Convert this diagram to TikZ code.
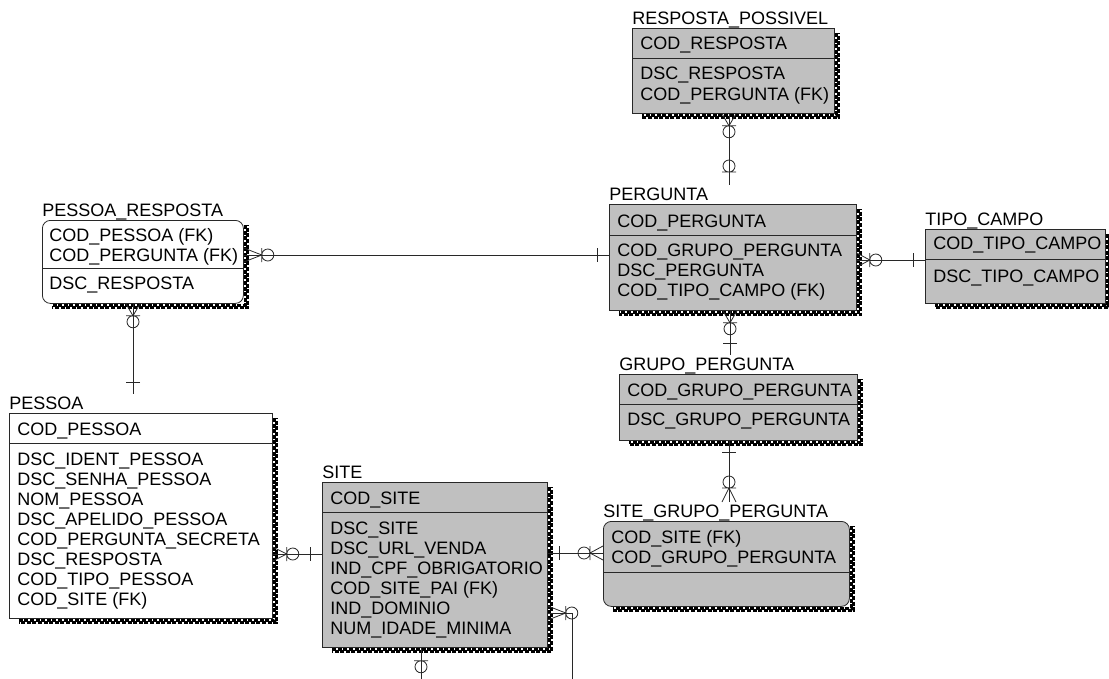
\documentclass[tikz,border=0pt]{standalone}
\usepackage{fontspec}
\setmainfont{Liberation Sans}
\usetikzlibrary{decorations.markings}
\definecolor{boxgray}{RGB}{192,192,192}
\definecolor{linegray}{RGB}{40,40,40}
\tikzset{
  entity/.style={draw=linegray, anchor=north west, inner sep=0pt},
  enttitle/.style={anchor=base west, inner xsep=0pt, inner ysep=2pt},
  field/.style={anchor=base west, inner sep=0pt},
  sepline/.style={draw=linegray},
  shadowin/.style={line width=2.7pt, dash pattern=on 4pt off 1.6pt},
  shadowout/.style={line width=2.7pt, dash pattern=on 4pt off 1.6pt, dash phase=2.8pt},
  rel/.style={draw=linegray, postaction={decorate}},
  frommany/.style={decoration={markings, mark=at position 0pt with {\draw (0,-7) -- (#1,0) -- (0,7) (#1,-7) -- (#1,7) (#1+6,0) circle (6pt);}}},
  toone/.style={decoration={markings, mark=at position 1 with {\draw (-12,-7) -- (-12,7);}}},
  tozone/.style={decoration={markings, mark=at position 1 with {\draw (-13,-7) -- (-13,7) (-19,0) circle (6pt);}}}
}

\begin{document}
\begin{tikzpicture}[x=1pt, y=-1pt, line width=0.8pt, font=\fontsize{18}{20}\selectfont]
	\useasboundingbox (0,0) rectangle (1109,678);
	\clip (0,0) rectangle (1109,678);
	% entities
	\node[entity, fill=white, minimum width=263, minimum height=205] (pessoa) at (9,413) {};
	\node[entity, fill=white, rounded corners=8pt, minimum width=201, minimum height=83] (presp) at (42,220) {};
	\node[entity, fill=boxgray, minimum width=202, minimum height=85] (rp) at (632,28) {};
	\node[entity, fill=boxgray, minimum width=247, minimum height=106] (pergunta) at (609,204) {};
	\node[entity, fill=boxgray, minimum width=180, minimum height=74] (tipo) at (925,229) {};
	\node[entity, fill=boxgray, minimum width=238, minimum height=66] (grupo) at (619,374) {};
	\node[entity, fill=boxgray, rounded corners=8pt, minimum width=246, minimum height=85] (sgp) at (603,521) {};
	\node[entity, fill=boxgray, minimum width=225, minimum height=165] (site) at (322,482) {};
	%
	\draw[shadowin] ([xshift=1.35pt,yshift=-5pt]pessoa.north east) |- ([xshift=10pt,yshift=-1.35pt]pessoa.south west);
	\draw[shadowout] ([xshift=4pt,yshift=-5pt]pessoa.north east) |- ([xshift=10pt,yshift=-4pt]pessoa.south west);
	\draw[shadowin] ([xshift=1.35pt,yshift=-5pt]presp.north east) |- ([xshift=10pt,yshift=-1.35pt]presp.south west);
	\draw[shadowout] ([xshift=4pt,yshift=-5pt]presp.north east) |- ([xshift=10pt,yshift=-4pt]presp.south west);
	\draw[shadowin] ([xshift=1.35pt,yshift=-5pt]rp.north east) |- ([xshift=10pt,yshift=-1.35pt]rp.south west);
	\draw[shadowout] ([xshift=4pt,yshift=-5pt]rp.north east) |- ([xshift=10pt,yshift=-4pt]rp.south west);
	\draw[shadowin] ([xshift=1.35pt,yshift=-5pt]pergunta.north east) |- ([xshift=10pt,yshift=-1.35pt]pergunta.south west);
	\draw[shadowout] ([xshift=4pt,yshift=-5pt]pergunta.north east) |- ([xshift=10pt,yshift=-4pt]pergunta.south west);
	\draw[shadowin] ([xshift=1.35pt,yshift=-5pt]tipo.north east) |- ([xshift=10pt,yshift=-1.35pt]tipo.south west);
	\draw[shadowout] ([xshift=4pt,yshift=-5pt]tipo.north east) |- ([xshift=10pt,yshift=-4pt]tipo.south west);
	\draw[shadowin] ([xshift=1.35pt,yshift=-5pt]grupo.north east) |- ([xshift=10pt,yshift=-1.35pt]grupo.south west);
	\draw[shadowout] ([xshift=4pt,yshift=-5pt]grupo.north east) |- ([xshift=10pt,yshift=-4pt]grupo.south west);
	\draw[shadowin] ([xshift=1.35pt,yshift=-5pt]sgp.north east) |- ([xshift=10pt,yshift=-1.35pt]sgp.south west);
	\draw[shadowout] ([xshift=4pt,yshift=-5pt]sgp.north east) |- ([xshift=10pt,yshift=-4pt]sgp.south west);
	\draw[shadowin] ([xshift=1.35pt,yshift=-5pt]site.north east) |- ([xshift=10pt,yshift=-1.35pt]site.south west);
	\draw[shadowout] ([xshift=4pt,yshift=-5pt]site.north east) |- ([xshift=10pt,yshift=-4pt]site.south west);
	%
	\node[enttitle] (pessoaT) at ([yshift=4pt]pessoa.north west) {PESSOA};
	\node[enttitle] (prespT) at ([yshift=4pt]presp.north west) {PESSOA\_RESPOSTA};
	\node[enttitle] (rpT) at ([yshift=4pt]rp.north west) {RESPOSTA\_POSSIVEL};
	\node[enttitle] (perguntaT) at ([yshift=4pt]pergunta.north west) {PERGUNTA};
	\node[enttitle] (tipoT) at ([yshift=4pt]tipo.north west) {TIPO\_CAMPO};
	\node[enttitle] (grupoT) at ([yshift=4pt]grupo.north west) {GRUPO\_PERGUNTA};
	\node[enttitle] (sgpT) at ([yshift=4pt]sgp.north west) {SITE\_GRUPO\_PERGUNTA};
	\node[enttitle] (siteT) at ([yshift=4pt]site.north west) {SITE};
	%
	\draw[sepline] (pessoa.west |- 0,443) -- (pessoa.east |- 0,443);
	\draw[sepline] (presp.west |- 0,268) -- (presp.east |- 0,268);
	\draw[sepline] (rp.west |- 0,58) -- (rp.east |- 0,58);
	\draw[sepline] (pergunta.west |- 0,235) -- (pergunta.east |- 0,235);
	\draw[sepline] (tipo.west |- 0,259) -- (tipo.east |- 0,259);
	\draw[sepline] (grupo.west |- 0,404) -- (grupo.east |- 0,404);
	\draw[sepline] (sgp.west |- 0,572) -- (sgp.east |- 0,572);
	\draw[sepline] (site.west |- 0,512) -- (site.east |- 0,512);
	% fields
	\node[field] (pessoa0) at (17,435) {COD\_PESSOA};
	\node[field] (pessoa1) at (17,465) {DSC\_IDENT\_PESSOA};
	\node[field] (pessoa2) at (17,485) {DSC\_SENHA\_PESSOA};
	\node[field] (pessoa3) at (17,505) {NOM\_PESSOA};
	\node[field] (pessoa4) at (17,525) {DSC\_APELIDO\_PESSOA};
	\node[field] (pessoa5) at (17,545) {COD\_PERGUNTA\_SECRETA};
	\node[field] (pessoa6) at (17,565) {DSC\_RESPOSTA};
	\node[field] (pessoa7) at (17,585) {COD\_TIPO\_PESSOA};
	\node[field] (pessoa8) at (17,605) {COD\_SITE (FK)};
	%
	\node[field] (presp0) at (49,241) {COD\_PESSOA (FK)};
	\node[field] (presp1) at (49,261) {COD\_PERGUNTA (FK)};
	\node[field] (presp2) at (49,289) {DSC\_RESPOSTA};
	%
	\node[field] (rp0) at (640,49) {COD\_RESPOSTA};
	\node[field] (rp1) at (640,79) {DSC\_RESPOSTA};
	\node[field] (rp2) at (640,100) {COD\_PERGUNTA (FK)};
	%
	\node[field] (pergunta0) at (617,227) {COD\_PERGUNTA};
	\node[field] (pergunta1) at (617,256) {COD\_GRUPO\_PERGUNTA};
	\node[field] (pergunta2) at (617,276) {DSC\_PERGUNTA};
	\node[field] (pergunta3) at (617,296) {COD\_TIPO\_CAMPO (FK)};
	%
	\node[field] (tipo0) at (933,249) {COD\_TIPO\_CAMPO};
	\node[field] (tipo1) at (933,282) {DSC\_TIPO\_CAMPO};
	%
	\node[field] (grupo0) at (627,396) {COD\_GRUPO\_PERGUNTA};
	\node[field] (grupo1) at (627,425) {DSC\_GRUPO\_PERGUNTA};
	%
	\node[field] (sgp0) at (611,543) {COD\_SITE (FK)};
	\node[field] (sgp1) at (611,563) {COD\_GRUPO\_PERGUNTA};
	%
	\node[field] (site0) at (330,504) {COD\_SITE};
	\node[field] (site1) at (330,534) {DSC\_SITE};
	\node[field] (site2) at (330,554) {DSC\_URL\_VENDA};
	\node[field] (site3) at (330,574) {IND\_CPF\_OBRIGATORIO};
	\node[field] (site4) at (330,594) {COD\_SITE\_PAI (FK)};
	\node[field] (site5) at (330,614) {IND\_DOMINIO};
	\node[field] (site6) at (330,634) {NUM\_IDADE\_MINIMA};
	% relationships
	\draw[rel, frommany=12, tozone] (rp.south -| 729,0) -- (perguntaT.north -| 729,0);
	\draw[rel, frommany=18, toone] (presp.east |- 0,255) -- (pergunta.west |- 0,255);
	\draw[rel, frommany=12, toone] (presp.south -| 133,0) -- (pessoaT.north -| 133,0);
	\draw[rel, frommany=13, toone] (pergunta.east |- 0,260) -- (tipo.west |- 0,260);
	\draw[rel, frommany=12, toone] (pergunta.south -| 730,0) -- (grupoT.north -| 730,0);
	\draw[rel, frommany=14, toone] (sgpT.north -| 729,0) -- (grupo.south -| 729,0);
	\draw[rel, frommany=14, toone] (pessoa.east |- 0,554) -- (site.west |- 0,554);
	\draw[rel, frommany=13, toone] (sgp.west |- 0,553) -- (site.east |- 0,553);
	\coordinate (loop) at (572,700);
	\draw[rel, frommany=18, tozone] (site.east |- 0,613) -| (loop) -| (site.south -| 421,0);
\end{tikzpicture}
\end{document}
